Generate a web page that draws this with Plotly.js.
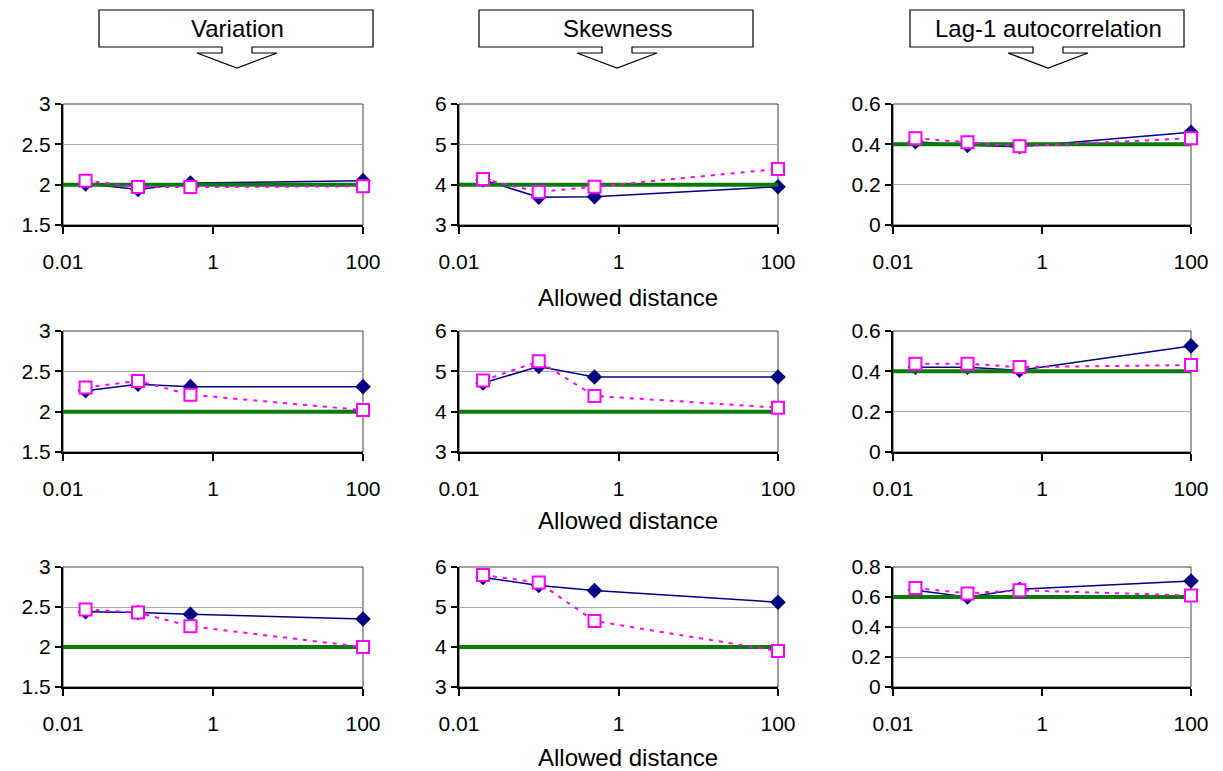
<!DOCTYPE html>
<html>
<head>
<meta charset="utf-8">
<script src="https://cdn.plot.ly/plotly-3.0.1.min.js"></script>
<style>html,body{margin:0;padding:0;background:#fff;}#chart{width:1223px;height:771px;}</style>
</head>
<body>
<div id="chart"></div>
<script>
// ---- data ----
const xDist = [0.02, 0.1, 0.5, 100];          // allowed distance
const trueX = [0.01, 100];                    // extent of reference (true value) line
const columnTitles = ["Variation", "Skewness", "Lag-1 autocorrelation"];
const xTickVals = [0.01, 1, 100];
const xTickText = ["0.01", "1", "100"];
const xTitle = "Allowed distance";

// row 1
const varBlue1  = [2.01, 1.94, 2.02, 2.05];
const varPink1  = [2.05, 1.97, 1.97, 1.98];
const skewBlue1 = [4.12, 3.69, 3.70, 3.95];
const skewPink1 = [4.14, 3.82, 3.95, 4.39];
const acBlue1   = [0.413, 0.395, 0.388, 0.46];
const acPink1   = [0.43, 0.41, 0.39, 0.43];
// row 2
const varBlue2  = [2.26, 2.34, 2.31, 2.31];
const varPink2  = [2.30, 2.38, 2.21, 2.02];
const skewBlue2 = [4.71, 5.12, 4.86, 4.86];
const skewPink2 = [4.77, 5.25, 4.39, 4.10];
const acBlue2   = [0.42, 0.42, 0.405, 0.526];
const acPink2   = [0.438, 0.438, 0.421, 0.431];
// row 3
const varBlue3  = [2.44, 2.43, 2.41, 2.35];
const varPink3  = [2.47, 2.43, 2.26, 2.00];
const skewBlue3 = [5.74, 5.54, 5.41, 5.12];
const skewPink3 = [5.80, 5.61, 4.65, 3.90];
const acBlue3   = [0.645, 0.60, 0.652, 0.707];
const acPink3   = [0.66, 0.624, 0.645, 0.61];

// true values (green lines), per row
const trueVar  = [2, 2, 2];
const trueSkew = [4, 4, 4];
const trueAc   = [0.4, 0.4, 0.6];

// y axis ranges per panel
const yRanges = [
  [[1.5, 3], [3, 6], [0, 0.6]],
  [[1.5, 3], [3, 6], [0, 0.6]],
  [[1.5, 3], [3, 6], [0, 0.8]]
];
const yDticks = [0.5, 1, 0.2];

// ---- layout geometry (pixels) ----
const W = 1223, H = 771;
const colX = [[63, 363], [459, 778], [893, 1191]];
const rowY = [[104, 225], [331, 452], [567, 687]];
const px = v => v / W;
const py = v => 1 - v / H;

const blueSets = [[varBlue1, skewBlue1, acBlue1], [varBlue2, skewBlue2, acBlue2], [varBlue3, skewBlue3, acBlue3]];
const pinkSets = [[varPink1, skewPink1, acPink1], [varPink2, skewPink2, acPink2], [varPink3, skewPink3, acPink3]];
const trueSets = [trueVar, trueSkew, trueAc];

const FONT = "Liberation Sans, Arial, sans-serif";
const TICKSIZE = 21;
const traces = [];
const layout = {
  width: W, height: H,
  margin: {l: 0, r: 0, t: 0, b: 0},
  paper_bgcolor: "#fff", plot_bgcolor: "#fff",
  showlegend: false,
  font: {family: FONT, color: "#000", size: TICKSIZE},
  shapes: [], annotations: []
};

for (let r = 0; r < 3; r++) {
  for (let c = 0; c < 3; c++) {
    const i = r * 3 + c + 1;
    const xa = "x" + (i === 1 ? "" : i), ya = "y" + (i === 1 ? "" : i);
    const xk = "xaxis" + (i === 1 ? "" : i), yk = "yaxis" + (i === 1 ? "" : i);
    traces.push({
      x: xDist, y: blueSets[r][c], xaxis: xa, yaxis: ya, type: "scatter", mode: "lines+markers",
      line: {color: "#000080", width: 1.5},
      marker: {symbol: "diamond", size: 12, color: "#000080"},
      cliponaxis: false
    });
    const tv = trueSets[c][r];
    traces.push({
      x: trueX, y: [tv, tv], xaxis: xa, yaxis: ya, type: "scatter", mode: "lines",
      line: {color: "#0b7a0b", width: 4}
    });
    traces.push({
      x: xDist, y: pinkSets[r][c], xaxis: xa, yaxis: ya, type: "scatter", mode: "lines+markers",
      line: {color: "#ff00ff", width: 2, dash: "4px,6px"},
      marker: {symbol: "square", size: 12, color: "#ffffff", line: {color: "#ff00ff", width: 2}},
      cliponaxis: false
    });
    layout[xk] = {
      domain: [px(colX[c][0]), px(colX[c][1])],
      anchor: ya, type: "log", range: [-2, 2],
      tickmode: "array", tickvals: xTickVals, ticktext: xTickText,
      ticks: "outside", ticklen: 7, tickwidth: 2, tickcolor: "#000",
      showline: true, linecolor: "#000", linewidth: 2,
      showgrid: false, zeroline: false,
      ticklabelstandoff: 10,
      tickfont: {family: FONT, size: TICKSIZE, color: "#000"}
    };
    layout[yk] = {
      domain: [py(rowY[r][1]), py(rowY[r][0])],
      anchor: xa, range: yRanges[r][c], dtick: yDticks[c], tick0: 0,
      ticks: "outside", ticklen: 6, tickwidth: 2, tickcolor: "#000",
      showline: true, linecolor: "#000", linewidth: 2,
      showgrid: true, gridcolor: "#a8a8a8", gridwidth: 1,
      zeroline: false,
      tickfont: {family: FONT, size: TICKSIZE, color: "#000"}
    };
    // plot-area border (top/right)
    layout.shapes.push({
      type: "rect", xref: xa + " domain", yref: ya + " domain",
      x0: 0, x1: 1, y0: 0, y1: 1, line: {color: "#404040", width: 1}, layer: "below"
    });
  }
  // x-axis title under the middle column
  layout.annotations.push({
    text: xTitle, xref: "paper", yref: "paper", x: px(628), y: py([297, 520, 757][r]),
    xanchor: "center", yanchor: "middle", showarrow: false,
    font: {family: FONT, size: 24, color: "#000"}
  });
}

// header callouts (down arrow callouts)
const boxLeft = [99, 479, 910];
for (let c = 0; c < 3; c++) {
  const L = boxLeft[c], R = L + 274, T = 10, B = 47;
  const cx = L + 138;
  const pts = [
    [L, T], [R, T], [R, B], [cx + 15, B], [cx + 15, 53], [cx + 40, 53], [cx, 68],
    [cx - 40, 53], [cx - 15, 53], [cx - 15, B], [L, B]
  ];
  const path = "M" + pts.map(p => px(p[0]).toFixed(5) + "," + py(p[1]).toFixed(5)).join(" L") + " Z";
  layout.shapes.push({type: "path", xref: "paper", yref: "paper", path: path,
    line: {color: "#000", width: 1.2}, fillcolor: "#fff"});
  layout.annotations.push({
    text: columnTitles[c], xref: "paper", yref: "paper", x: px(cx), y: py(28.5),
    xanchor: "center", yanchor: "middle", showarrow: false,
    font: {family: FONT, size: 24, color: "#000"}
  });
}

Plotly.newPlot("chart", traces, layout, {staticPlot: true, displayModeBar: false});
</script>
</body>
</html>
